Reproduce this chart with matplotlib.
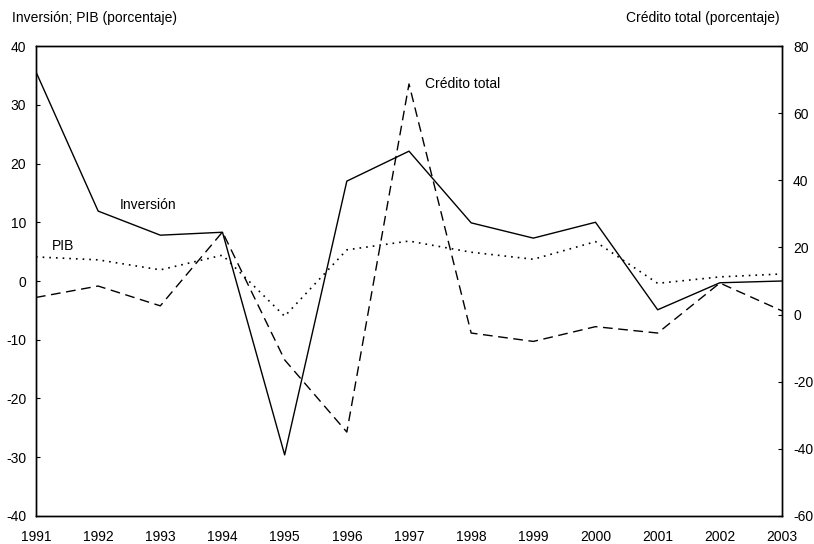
import numpy as np
import matplotlib.pyplot as plt

plt.rcParams['font.family'] = ['Liberation Sans', 'DejaVu Sans']
plt.rcParams['axes.unicode_minus'] = False

# datos
anios = [1991, 1992, 1993, 1994, 1995, 1996, 1997, 1998, 1999, 2000, 2001, 2002, 2003]
inversion = [35.6, 11.9, 7.8, 8.3, -29.6, 17.0, 22.1, 9.9, 7.3, 10.0, -4.9, -0.3, 0.0]
pib = [4.1, 3.6, 1.9, 4.4, -6.0, 5.3, 6.8, 4.9, 3.7, 6.7, -0.4, 0.7, 1.2]
credito = [5.1, 8.5, 2.6, 24.6, -13.5, -35.0, 68.7, -5.5, -8.0, -3.6, -5.5, 9.4, 1.1]

fig = plt.figure(figsize=(8.14, 5.44), dpi=100)
ax = fig.add_axes([0.0442, 0.0515, 0.9165, 0.8639])
ax2 = ax.twinx()

ax.plot(anios, inversion, color='black', lw=1.0, ls='-')
ax.plot(anios, pib, color='black', lw=1.2, ls=(0, (1, 3)))
ax2.plot(anios, credito, color='black', lw=1.0, ls=(0, (7, 4)))

ax.set_xlim(1991, 2003)
ax.set_ylim(-40, 40)
ax2.set_ylim(-60, 80)
ax.set_xticks(anios)
ax.set_yticks(np.arange(-40, 41, 10))
ax2.set_yticks(np.arange(-60, 81, 20))

ax.tick_params(axis='x', length=0, pad=10, labelsize=10)
ax.tick_params(axis='y', direction='in', length=3, pad=7, labelsize=10)
ax2.tick_params(axis='y', direction='in', length=3, pad=8, labelsize=10)
for a in (ax, ax2):
    for s in a.spines.values():
        s.set_linewidth(1.0)

ax.text(1992.35, 12.2, 'Inversión', fontsize=10)
ax.text(1991.25, 5.3, 'PIB', fontsize=10)
ax2.text(1997.25, 67.5, 'Crédito total', fontsize=10)

fig.text(12 / 814, 1 - 18 / 544, 'Inversión; PIB (porcentaje)', fontsize=10, va='center')
fig.text(780 / 814, 1 - 18 / 544, 'Crédito total (porcentaje)', fontsize=10, va='center', ha='right')

fig.savefig('out.png', dpi=100)
